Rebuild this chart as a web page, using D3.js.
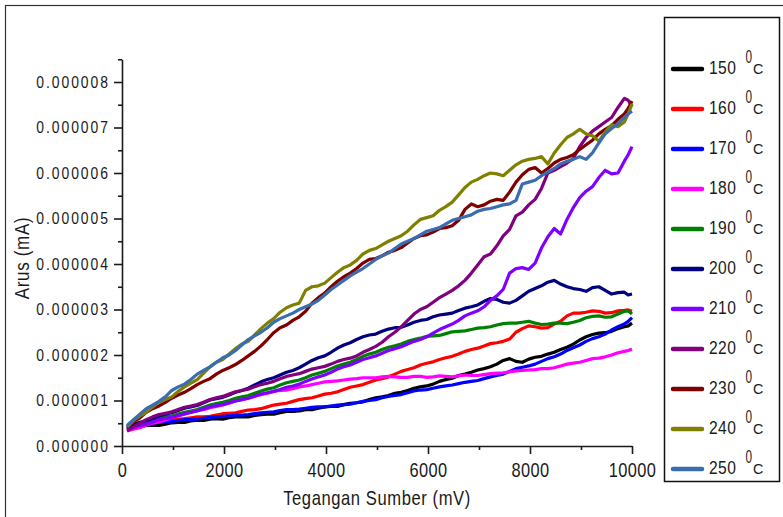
<!DOCTYPE html>
<html>
<head>
<meta charset="utf-8">
<script src="https://cdn.jsdelivr.net/npm/d3@7"></script>
<style>
  body { margin: 0; background: #fff; }
  svg { display: block; }
  text { font-family: "Liberation Sans", Arial, sans-serif; fill: #1a1a1a; }
</style>
</head>
<body>
<div id="chart"></div>
<script>
// voltage grid (mV), shared by every series
const voltages = [100, 225, 350, 475, 600, 725, 850, 975, 1100, 1225,
  1350, 1475, 1600, 1725, 1850, 1975, 2100, 2225, 2350, 2475,
  2600, 2725, 2850, 2975, 3100, 3225, 3350, 3475, 3600, 3725,
  3850, 3975, 4100, 4225, 4350, 4475, 4600, 4725, 4850, 4975,
  5100, 5225, 5350, 5475, 5600, 5725, 5850, 5975, 6100, 6225,
  6350, 6475, 6600, 6725, 6850, 6975, 7100, 7225, 7350, 7475,
  7600, 7725, 7850, 7975, 8100, 8225, 8350, 8475, 8600, 8725,
  8850, 8975, 9100, 9225, 9350, 9475, 9600, 9725, 9850, 9925, 10000];

// current values in units of 1e-6 mA
const UNIT = 1e-6;
const arus150 = [0.38, 0.41, 0.42, 0.45, 0.46, 0.45, 0.48, 0.51, 0.52, 0.52,
  0.55, 0.57, 0.56, 0.59, 0.60, 0.59, 0.62, 0.64, 0.64, 0.64,
  0.67, 0.69, 0.70, 0.70, 0.73, 0.76, 0.76, 0.77, 0.80, 0.80,
  0.83, 0.86, 0.87, 0.87, 0.91, 0.94, 0.95, 0.97, 1.02, 1.06,
  1.08, 1.11, 1.16, 1.18, 1.22, 1.27, 1.30, 1.32, 1.36, 1.42,
  1.46, 1.49, 1.55, 1.58, 1.62, 1.67, 1.70, 1.74, 1.80, 1.88,
  1.92, 1.86, 1.84, 1.91, 1.95, 1.97, 2.02, 2.06, 2.12, 2.17,
  2.24, 2.33, 2.40, 2.45, 2.48, 2.49, 2.52, 2.58, 2.62, 2.64, 2.70];
const arus160 = [0.38, 0.44, 0.47, 0.49, 0.53, 0.55, 0.55, 0.58, 0.59, 0.60,
  0.62, 0.64, 0.64, 0.65, 0.68, 0.71, 0.72, 0.73, 0.76, 0.79,
  0.80, 0.82, 0.86, 0.90, 0.92, 0.94, 0.98, 1.02, 1.04, 1.06,
  1.10, 1.14, 1.16, 1.19, 1.24, 1.29, 1.32, 1.35, 1.40, 1.45,
  1.48, 1.52, 1.58, 1.64, 1.68, 1.72, 1.78, 1.82, 1.85, 1.90,
  1.94, 1.97, 2.02, 2.08, 2.12, 2.15, 2.20, 2.25, 2.27, 2.30,
  2.35, 2.50, 2.58, 2.64, 2.62, 2.59, 2.60, 2.68, 2.74, 2.86,
  2.92, 2.92, 2.94, 2.97, 2.96, 2.92, 2.93, 2.97, 2.98, 2.99, 2.96];
const arus170 = [0.36, 0.41, 0.45, 0.48, 0.50, 0.52, 0.53, 0.54, 0.56, 0.58,
  0.58, 0.59, 0.61, 0.63, 0.64, 0.65, 0.66, 0.68, 0.68, 0.69,
  0.71, 0.73, 0.74, 0.75, 0.78, 0.80, 0.80, 0.81, 0.83, 0.85,
  0.86, 0.86, 0.88, 0.90, 0.91, 0.92, 0.95, 0.98, 1.00, 1.02,
  1.06, 1.09, 1.11, 1.13, 1.17, 1.21, 1.23, 1.24, 1.27, 1.30,
  1.32, 1.34, 1.37, 1.40, 1.42, 1.44, 1.48, 1.52, 1.55, 1.58,
  1.64, 1.70, 1.73, 1.76, 1.80, 1.86, 1.92, 1.96, 2.02, 2.10,
  2.16, 2.22, 2.30, 2.36, 2.40, 2.46, 2.55, 2.62, 2.68, 2.74, 2.82];
const arus180 = [0.33, 0.37, 0.40, 0.46, 0.50, 0.53, 0.57, 0.62, 0.66, 0.70,
  0.74, 0.78, 0.80, 0.84, 0.87, 0.90, 0.94, 0.99, 1.02, 1.05,
  1.09, 1.13, 1.16, 1.20, 1.22, 1.23, 1.26, 1.30, 1.32, 1.35,
  1.38, 1.41, 1.42, 1.43, 1.45, 1.47, 1.48, 1.50, 1.50, 1.50,
  1.52, 1.53, 1.52, 1.51, 1.51, 1.53, 1.53, 1.51, 1.52, 1.54,
  1.53, 1.52, 1.54, 1.56, 1.55, 1.55, 1.57, 1.59, 1.60, 1.61,
  1.63, 1.65, 1.66, 1.67, 1.68, 1.70, 1.70, 1.72, 1.76, 1.80,
  1.82, 1.84, 1.88, 1.92, 1.93, 1.96, 2.00, 2.05, 2.08, 2.10, 2.13];
const arus190 = [0.38, 0.44, 0.48, 0.51, 0.57, 0.62, 0.64, 0.66, 0.70, 0.74,
  0.77, 0.80, 0.85, 0.90, 0.93, 0.96, 1.00, 1.05, 1.08, 1.11,
  1.16, 1.21, 1.25, 1.28, 1.34, 1.39, 1.42, 1.45, 1.50, 1.56,
  1.60, 1.64, 1.70, 1.76, 1.80, 1.84, 1.90, 1.97, 2.02, 2.06,
  2.12, 2.17, 2.20, 2.24, 2.30, 2.34, 2.37, 2.41, 2.42, 2.43,
  2.47, 2.51, 2.52, 2.53, 2.56, 2.59, 2.60, 2.62, 2.66, 2.69,
  2.70, 2.70, 2.72, 2.74, 2.70, 2.67, 2.68, 2.70, 2.70, 2.69,
  2.72, 2.76, 2.82, 2.85, 2.86, 2.83, 2.84, 2.90, 2.96, 2.97, 2.90];
const arus200 = [0.40, 0.47, 0.52, 0.55, 0.60, 0.66, 0.70, 0.73, 0.78, 0.83,
  0.86, 0.89, 0.95, 1.01, 1.04, 1.07, 1.12, 1.18, 1.22, 1.27,
  1.34, 1.41, 1.46, 1.50, 1.56, 1.62, 1.66, 1.72, 1.80, 1.88,
  1.94, 1.98, 2.06, 2.15, 2.22, 2.27, 2.34, 2.40, 2.44, 2.46,
  2.52, 2.57, 2.60, 2.61, 2.66, 2.72, 2.76, 2.78, 2.84, 2.88,
  2.90, 2.92, 2.98, 3.03, 3.06, 3.10, 3.18, 3.24, 3.22, 3.16,
  3.14, 3.20, 3.30, 3.40, 3.46, 3.52, 3.60, 3.64, 3.56, 3.50,
  3.46, 3.44, 3.40, 3.48, 3.50, 3.42, 3.34, 3.37, 3.38, 3.32, 3.34];
const arus210 = [0.35, 0.41, 0.45, 0.48, 0.53, 0.58, 0.61, 0.63, 0.67, 0.71,
  0.74, 0.77, 0.82, 0.86, 0.89, 0.91, 0.95, 0.99, 1.02, 1.05,
  1.10, 1.14, 1.17, 1.20, 1.24, 1.29, 1.32, 1.36, 1.42, 1.47,
  1.52, 1.56, 1.62, 1.69, 1.74, 1.78, 1.84, 1.90, 1.94, 1.98,
  2.04, 2.10, 2.14, 2.18, 2.24, 2.30, 2.34, 2.40, 2.48, 2.56,
  2.62, 2.68, 2.76, 2.86, 2.92, 2.97, 3.06, 3.20, 3.30, 3.44,
  3.80, 3.90, 3.92, 3.88, 4.02, 4.35, 4.60, 4.78, 4.66, 4.98,
  5.24, 5.46, 5.60, 5.70, 5.90, 6.06, 5.98, 6.00, 6.26, 6.40, 6.58];
const arus220 = [0.33, 0.42, 0.50, 0.58, 0.64, 0.69, 0.72, 0.75, 0.80, 0.85,
  0.88, 0.91, 0.96, 1.02, 1.06, 1.09, 1.14, 1.19, 1.22, 1.25,
  1.30, 1.35, 1.38, 1.42, 1.48, 1.53, 1.56, 1.59, 1.64, 1.69,
  1.72, 1.75, 1.80, 1.86, 1.90, 1.93, 1.98, 2.06, 2.12, 2.19,
  2.28, 2.40, 2.50, 2.62, 2.76, 2.90, 3.00, 3.06, 3.16, 3.26,
  3.34, 3.42, 3.52, 3.64, 3.80, 3.98, 4.16, 4.22, 4.40, 4.62,
  4.76, 5.06, 5.14, 5.30, 5.42, 5.66, 6.00, 6.06, 6.14, 6.22,
  6.32, 6.58, 6.78, 6.92, 7.02, 7.12, 7.22, 7.44, 7.64, 7.60, 7.46];
const arus230 = [0.42, 0.53, 0.62, 0.74, 0.82, 0.88, 0.96, 1.05, 1.12, 1.18,
  1.26, 1.35, 1.42, 1.48, 1.58, 1.66, 1.72, 1.79, 1.88, 1.98,
  2.08, 2.20, 2.34, 2.49, 2.60, 2.66, 2.76, 2.84, 2.96, 3.14,
  3.26, 3.36, 3.50, 3.62, 3.72, 3.80, 3.90, 4.02, 4.10, 4.12,
  4.18, 4.26, 4.30, 4.36, 4.46, 4.56, 4.62, 4.64, 4.70, 4.78,
  4.80, 4.84, 4.96, 5.20, 5.32, 5.26, 5.30, 5.38, 5.42, 5.40,
  5.58, 5.80, 5.96, 6.08, 6.12, 6.00, 6.10, 6.22, 6.30, 6.34,
  6.40, 6.52, 6.62, 6.72, 6.86, 6.96, 7.04, 7.18, 7.30, 7.42, 7.58];
const arus240 = [0.42, 0.56, 0.66, 0.74, 0.86, 0.96, 1.02, 1.08, 1.20, 1.30,
  1.38, 1.46, 1.60, 1.74, 1.84, 1.90, 2.02, 2.14, 2.24, 2.30,
  2.44, 2.58, 2.70, 2.80, 2.94, 3.04, 3.10, 3.14, 3.42, 3.50,
  3.52, 3.58, 3.70, 3.82, 3.92, 3.98, 4.08, 4.22, 4.30, 4.34,
  4.42, 4.50, 4.56, 4.62, 4.72, 4.86, 4.98, 5.02, 5.06, 5.18,
  5.26, 5.36, 5.52, 5.68, 5.80, 5.86, 5.94, 6.00, 5.98, 5.94,
  6.06, 6.18, 6.26, 6.30, 6.32, 6.36, 6.20, 6.44, 6.62, 6.78,
  6.86, 6.96, 6.86, 6.82, 6.70, 6.90, 7.06, 7.02, 7.12, 7.30, 7.52];
const arus250 = [0.45, 0.58, 0.70, 0.82, 0.90, 0.98, 1.08, 1.22, 1.30, 1.36,
  1.46, 1.58, 1.66, 1.74, 1.84, 1.94, 2.00, 2.10, 2.22, 2.34,
  2.42, 2.50, 2.60, 2.72, 2.80, 2.86, 2.92, 3.00, 3.06, 3.12,
  3.20, 3.32, 3.44, 3.54, 3.64, 3.74, 3.82, 3.90, 4.00, 4.10,
  4.18, 4.24, 4.34, 4.44, 4.50, 4.56, 4.64, 4.72, 4.76, 4.80,
  4.88, 4.96, 5.00, 5.04, 5.08, 5.16, 5.20, 5.22, 5.26, 5.30,
  5.32, 5.40, 5.76, 5.80, 5.84, 5.94, 6.02, 6.10, 6.20, 6.26,
  6.30, 6.36, 6.30, 6.44, 6.66, 6.86, 6.98, 7.08, 7.22, 7.30, 7.36];

const suhu = ["150", "160", "170", "180", "190", "200", "210", "220", "230", "240", "250"];
const warna = ["#000000", "#ff0000", "#0000ff", "#ff00ff", "#008000", "#000080",
  "#8000ff", "#800080", "#800000", "#808000", "#3a6db0"];
const seriesValues = [arus150, arus160, arus170, arus180, arus190, arus200,
  arus210, arus220, arus230, arus240, arus250];

const xTicks = [0, 2000, 4000, 6000, 8000, 10000];
const xMinor = [1000, 3000, 5000, 7000, 9000];
const yTicks = [0, 1, 2, 3, 4, 5, 6, 7, 8].map(d => d * UNIT);
const yMinor = [0.5, 1.5, 2.5, 3.5, 4.5, 5.5, 6.5, 7.5, 8.5].map(d => d * UNIT);

var W = 783, H = 517;
var SX = 0.82;   // horizontal squeeze to get a narrow face out of Liberation Sans

var svg = d3.select("#chart").append("svg")
    .attr("width", W)
    .attr("height", H);

// outer frame
svg.append("rect")
    .attr("x", 5.5).attr("y", 5.5)
    .attr("width", 820).attr("height", 540)
    .attr("fill", "none")
    .attr("stroke", "#333")
    .attr("stroke-width", 1.2);

var x = d3.scaleLinear().domain([0, 10000]).range([122, 632]);
var y = d3.scaleLinear().domain([0, 8.5 * UNIT]).range([446, 59.25]);

var line = d3.line()
    .x(function(d) { return x(d.v) })
    .y(function(d) { return y(d.a) });

var dataReady = suhu.map(function(t, i) {
    return {
        name: t,
        color: warna[i],
        values: voltages.map(function(v, j) { return {v: v, a: seriesValues[i][j] * UNIT}; })
    };
});

// axes
var axisColor = "#1a1a1a";

var gy = svg.append("g")
    .attr("transform", "translate(122,0)")
    .call(d3.axisLeft(y).tickValues(yTicks).tickFormat(d3.format(".6f"))
        .tickSize(8).tickSizeOuter(0).tickPadding(4));
gy.selectAll("text")
    .attr("x", -12 / SX)
    .attr("transform", "scale(" + SX + ",1)")
    .style("font-size", "17px")
    .style("letter-spacing", "2.4px")
    .attr("fill", axisColor);

svg.append("g")
    .attr("transform", "translate(122,0)")
    .call(d3.axisLeft(y).tickValues(yMinor).tickFormat("").tickSize(4).tickSizeOuter(0))
    .select(".domain").remove();

var gx = svg.append("g")
    .attr("transform", "translate(0,446)")
    .call(d3.axisBottom(x).tickValues(xTicks).tickFormat(d3.format("d"))
        .tickSize(8).tickSizeOuter(0).tickPadding(9));
gx.selectAll("text")
    .attr("transform", "scale(" + SX + ",1)")
    .style("font-size", "20px")
    .style("letter-spacing", "0.5px")
    .attr("fill", axisColor);

svg.append("g")
    .attr("transform", "translate(0,446)")
    .call(d3.axisBottom(x).tickValues(xMinor).tickFormat("").tickSize(4).tickSizeOuter(0))
    .select(".domain").remove();

svg.selectAll(".domain, .tick line")
    .attr("stroke", axisColor)
    .attr("stroke-width", 1.6);

// lines
svg.selectAll("myLines")
    .data(dataReady)
    .enter()
    .append("path")
        .attr("d", function(d) { return line(d.values) })
        .attr("stroke", function(d) { return d.color })
        .attr("stroke-width", 3.2)
        .attr("stroke-linejoin", "round")
        .attr("fill", "none");

// axis titles
svg.append("text")
    .attr("transform", "translate(377,505) scale(0.83,1)")
    .attr("text-anchor", "middle")
    .style("font-size", "20px")
    .style("letter-spacing", "0.7px")
    .text("Tegangan Sumber (mV)");

svg.append("text")
    .attr("transform", "translate(29,258) rotate(-90) scale(0.85,1)")
    .attr("text-anchor", "middle")
    .style("font-size", "20px")
    .style("letter-spacing", "0.8px")
    .text("Arus (mA)");

// legend
svg.append("rect")
    .attr("x", 664.5).attr("y", 17.5)
    .attr("width", 115).attr("height", 464)
    .attr("fill", "#fff")
    .attr("stroke", "#111")
    .attr("stroke-width", 1.5);

var legend = svg.selectAll("myLegend")
    .data(dataReady)
    .enter()
    .append("g")
        .attr("transform", function(d, i) { return "translate(0," + (69 + i * 40) + ")" });

legend.append("line")
    .attr("x1", 673).attr("x2", 702)
    .attr("stroke", function(d) { return d.color })
    .attr("stroke-width", 4.5)
    .attr("stroke-linecap", "round");

legend.append("text")
    .attr("transform", "translate(709,4.5) scale(" + SX + ",1)")
    .style("font-size", "19px")
    .style("letter-spacing", "0.5px")
    .text(function(d) { return d.name });

legend.append("text")
    .attr("transform", "translate(745.5,-6) scale(0.62,1)")
    .style("font-size", "19px")
    .text("0");

legend.append("text")
    .attr("transform", "translate(753,5) scale(0.95,1)")
    .style("font-size", "15px")
    .text("C");
</script>
</body>
</html>
